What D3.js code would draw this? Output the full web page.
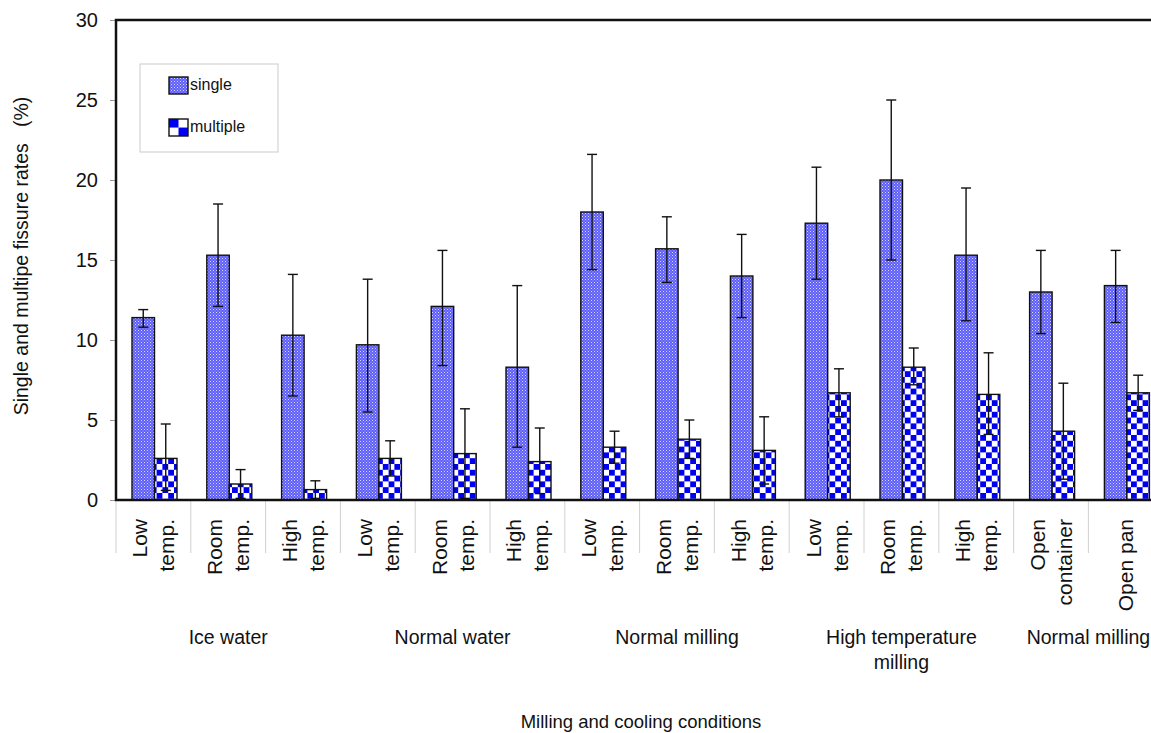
<!DOCTYPE html>
<html>
<head>
<meta charset="utf-8">
<script src="https://cdn.jsdelivr.net/npm/d3@7"></script>
<style>
  html, body { margin: 0; padding: 0; background: #fff; overflow: hidden; }
  text { font-family: "Liberation Sans", Arial, sans-serif; fill: #111; }
</style>
</head>
<body>
<svg id="chart" width="1151" height="733"></svg>
<script>
// ---- data ----
const categories = ["ice-low","ice-room","ice-high","nw-low","nw-room","nw-high",
  "nm-low","nm-room","nm-high","ht-low","ht-room","ht-high","open-container","open-pan"];
const categoryLabels = [["Low","temp."],["Room","temp."],["High","temp."],
  ["Low","temp."],["Room","temp."],["High","temp."],
  ["Low","temp."],["Room","temp."],["High","temp."],
  ["Low","temp."],["Room","temp."],["High","temp."],
  ["Open","container"],["Open pan"]];
const seriesNames = ["single","multiple"];
const singleValues   = [11.4, 15.3, 10.3, 9.7, 12.1, 8.3, 18.0, 15.7, 14.0, 17.3, 20.0, 15.3, 13.0, 13.4];
const singleErrHigh  = [11.9, 18.5, 14.1, 13.8, 15.6, 13.4, 21.6, 17.7, 16.6, 20.8, 25.0, 19.5, 15.6, 15.6];
const singleErrLow   = [10.8, 12.1, 6.5, 5.5, 8.4, 3.3, 14.4, 13.6, 11.4, 13.8, 15.0, 11.2, 10.4, 11.1];
const multipleValues  = [2.6, 1.0, 0.65, 2.6, 2.9, 2.4, 3.3, 3.8, 3.1, 6.7, 8.3, 6.6, 4.3, 6.7];
const multipleErrHigh = [4.75, 1.9, 1.2, 3.7, 5.7, 4.5, 4.3, 5.0, 5.2, 8.2, 9.5, 9.2, 7.3, 7.8];
const multipleErrLow  = [0.6, 0.1, 0.1, 1.5, 0.1, 0.4, 2.3, 2.6, 1.0, 5.2, 7.2, 4.1, 1.3, 5.6];
const groupNames = [["Ice water"],["Normal water"],["Normal milling"],["High temperature","milling"],["Normal milling"]];
const groupSpans = [[0,2],[3,5],[6,8],[9,11],[12,13]];
const yTicks = [0,5,10,15,20,25,30];
const yTitle = "Single and multipe fissure rates   (%)";
const xTitle = "Milling and cooling conditions";

// ---- layout ----
const svg = d3.select("#chart");
const plotLeft = 116, plotTop = 20, plotBottom = 500, band = 74.8;

const x = d3.scaleBand().domain(categories).range([plotLeft, plotLeft + band * categories.length]).padding(0);
const xs = d3.scaleBand().domain(seriesNames).range([16, 61]).padding(0);
const y = d3.scaleLinear().domain([0, 30]).range([plotBottom, plotTop]);

// patterns
const defs = svg.append("defs");
const pS = defs.append("pattern").attr("id","patSingle").attr("patternUnits","userSpaceOnUse")
  .attr("width",3).attr("height",3);
pS.append("rect").attr("width",3).attr("height",3).attr("fill","#5e5ef8");
pS.append("rect").attr("x",0).attr("y",0).attr("width",1).attr("height",1).attr("fill","#d8d8ff");
pS.append("rect").attr("x",1.5).attr("y",1.5).attr("width",1).attr("height",1).attr("fill","#b4b4ff");

const cs = 5.8;
const pM = defs.append("pattern").attr("id","patMulti").attr("patternUnits","userSpaceOnUse")
  .attr("width",cs*2).attr("height",cs*2);
pM.append("rect").attr("width",cs*2).attr("height",cs*2).attr("fill","#ffffff");
pM.append("rect").attr("x",0).attr("y",0).attr("width",cs).attr("height",cs).attr("fill","#0000f0");
pM.append("rect").attr("x",cs).attr("y",cs).attr("width",cs).attr("height",cs).attr("fill","#0000f0");

const lc = 9.5;
const pL = defs.append("pattern").attr("id","patMultiLeg").attr("patternUnits","userSpaceOnUse")
  .attr("x",169).attr("y",119).attr("width",lc*2).attr("height",lc*2);
pL.append("rect").attr("width",lc*2).attr("height",lc*2).attr("fill","#ffffff");
pL.append("rect").attr("x",0).attr("y",0).attr("width",lc).attr("height",lc*0.9).attr("fill","#0000f0");
pL.append("rect").attr("x",lc).attr("y",lc*0.9).attr("width",lc).attr("height",lc).attr("fill","#0000f0");

// category separator lines below axis
const bounds = d3.range(categories.length + 1).map(i => plotLeft + i * x.bandwidth());
svg.append("g").selectAll("line").data(bounds).join("line")
  .attr("x1", d => d).attr("x2", d => d).attr("y1", plotBottom).attr("y2", 553)
  .attr("stroke", "#d0d0d0").attr("stroke-width", 1);

// y axis ticks & labels
const yAxis = d3.axisLeft(y).tickValues(yTicks).tickSize(6).tickPadding(12);
const ya = svg.append("g").attr("transform", `translate(${plotLeft},0)`).call(yAxis);
ya.select(".domain").remove();
ya.selectAll(".tick line").attr("stroke", "#999").attr("stroke-width", 1);
ya.selectAll(".tick text").attr("font-size", 20).attr("fill", "#111")
  .style("font-family", '"Liberation Sans", Arial, sans-serif');

// bars
const singleData = categories.map((c, i) => ({c, v: singleValues[i], hi: singleErrHigh[i], lo: singleErrLow[i], s: "single"}));
const multiData = categories.map((c, i) => ({c, v: multipleValues[i], hi: multipleErrHigh[i], lo: multipleErrLow[i], s: "multiple"}));
const allData = singleData.concat(multiData);

svg.append("g").selectAll("rect").data(allData).join("rect")
  .attr("x", d => x(d.c) + xs(d.s))
  .attr("y", d => y(d.v))
  .attr("width", xs.bandwidth())
  .attr("height", d => y(0) - y(d.v))
  .attr("fill", d => d.s === "single" ? "url(#patSingle)" : "url(#patMulti)")
  .attr("stroke", "#111").attr("stroke-width", 1.4);

// error bars
const eb = svg.append("g").attr("stroke", "#111").attr("stroke-width", 1.4);
const cx = d => x(d.c) + xs(d.s) + xs.bandwidth() / 2;
eb.selectAll("line.v").data(allData).join("line").attr("class","v")
  .attr("x1", cx).attr("x2", cx).attr("y1", d => y(d.hi)).attr("y2", d => y(d.lo));
eb.selectAll("line.h").data(allData).join("line").attr("class","h")
  .attr("x1", d => cx(d) - 5).attr("x2", d => cx(d) + 5).attr("y1", d => y(d.hi)).attr("y2", d => y(d.hi));
eb.selectAll("line.l").data(allData).join("line").attr("class","l")
  .attr("x1", d => cx(d) - 5).attr("x2", d => cx(d) + 5).attr("y1", d => y(d.lo)).attr("y2", d => y(d.lo));

// plot frame (left, top, bottom)
svg.append("path")
  .attr("d", `M${x.range()[1]},${plotTop} L${plotLeft},${plotTop} L${plotLeft},${plotBottom} L${x.range()[1]},${plotBottom}`)
  .attr("fill", "none").attr("stroke", "#111").attr("stroke-width", 2.5);

// category labels (rotated)
const catG = svg.append("g");
categories.forEach((c, i) => {
  const lines = categoryLabels[i];
  const center = x(c) + x.bandwidth() / 2;
  lines.forEach((t, j) => {
    const bx = center + 7.5 + (j - (lines.length - 1) / 2) * 27;
    catG.append("text")
      .attr("transform", `translate(${bx},519) rotate(-90)`)
      .attr("text-anchor", "end")
      .attr("font-size", 21)
      .text(t);
  });
});

// group labels
const grpG = svg.append("g");
groupNames.forEach((lines, g) => {
  const [a, b] = groupSpans[g];
  const center = (x(categories[a]) + x(categories[b]) + x.bandwidth()) / 2;
  lines.forEach((t, j) => {
    grpG.append("text").attr("x", center).attr("y", 644 + j * 25)
      .attr("text-anchor", "middle").attr("font-size", 19.5).text(t);
  });
});

// axis titles
svg.append("text").attr("x", 641).attr("y", 728).attr("text-anchor", "middle")
  .attr("font-size", 18.5).text(xTitle);
svg.append("text").attr("transform", "translate(28,256) rotate(-90)")
  .attr("text-anchor", "middle").attr("font-size", 19.5)
  .style("white-space", "pre").text(yTitle);

// legend
const lg = svg.append("g");
lg.append("rect").attr("x", 140).attr("y", 64).attr("width", 138).attr("height", 88)
  .attr("fill", "#fff").attr("stroke", "#d4d4d4").attr("stroke-width", 1.2);
const legY = [77, 119];
const legFill = ["url(#patSingle)", "url(#patMultiLeg)"];
seriesNames.forEach((s, i) => {
  lg.append("rect").attr("x", 169).attr("y", legY[i]).attr("width", 19).attr("height", 17)
    .attr("fill", legFill[i]).attr("stroke", "#111").attr("stroke-width", 1.4);
  lg.append("text").attr("x", 190).attr("y", legY[i] + 13).attr("font-size", 16).text(s);
});
</script>
</body>
</html>
